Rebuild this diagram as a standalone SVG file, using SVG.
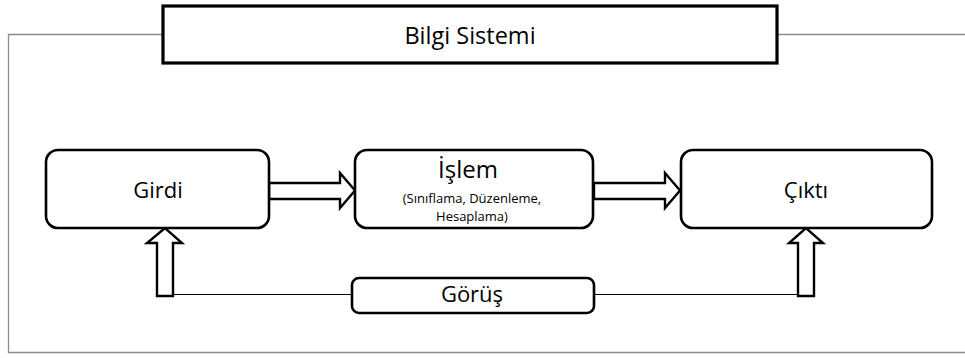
<svg xmlns="http://www.w3.org/2000/svg" width="965" height="358" viewBox="0 0 965 358">
<style>
.frame{fill:none;stroke:#8c8c8c;stroke-width:1.3}
.box{fill:#fff;stroke:#000;stroke-width:2.6}
.arrow{fill:#fff;stroke:#000;stroke-width:2.4;stroke-linejoin:miter}
.thin{fill:none;stroke:#000;stroke-width:1}
text{font-family:"Open Sans","Noto Sans",sans-serif;fill:#000;text-anchor:middle}
.big{font-size:22px}
.small{font-size:13px}
</style>
<rect width="965" height="358" fill="#fff"/>
<g id="connectors">
<polyline class="frame" points="162,34.5 8.5,34.5 8.5,352.5 965,352.5"/>
<line class="frame" x1="778" y1="34.5" x2="965" y2="34.5"/>
<line class="thin" x1="173" y1="294.5" x2="352" y2="294.5"/>
<line class="thin" x1="594" y1="294.5" x2="798" y2="294.5"/>
<polygon class="arrow" points="269,183 340,183 340,173 355,190.5 340,208 340,199 269,199"/>
<polygon class="arrow" points="594,183 665,183 665,173 680,190.5 665,208 665,199 594,199"/>
<polygon class="arrow" points="157,296 157,243 147,243 165,228 182,243 173,243 173,296"/>
<polygon class="arrow" points="798,296 798,243 789,243 806,228 823,243 814,243 814,296"/>
</g>
<g id="bilgi-sistemi">
<rect x="163" y="6" width="614" height="57" fill="#fff" stroke="#000" stroke-width="3.2"/>
<text x="470" y="44" style="font-size:23.5px">Bilgi Sistemi</text>
</g>
<g id="girdi">
<rect class="box" x="46" y="150" width="223" height="78" rx="12"/>
<text class="big" x="158" y="198">Girdi</text>
</g>
<g id="islem">
<rect class="box" x="355" y="150" width="238" height="78" rx="12"/>
<text x="468" y="178" style="font-size:24px">İşlem</text>
<text class="small" x="472" y="203">(Sınıflama,  Düzenleme,</text>
<text class="small" x="472" y="221">Hesaplama)</text>
</g>
<g id="cikti">
<rect class="box" x="681" y="150" width="251" height="78" rx="12"/>
<text class="big" x="806" y="198">Çıktı</text>
</g>
<g id="gorus">
<rect class="box" x="352" y="278" width="242" height="35" rx="7"/>
<text class="big" x="472" y="302">Görüş</text>
</g>
</svg>
